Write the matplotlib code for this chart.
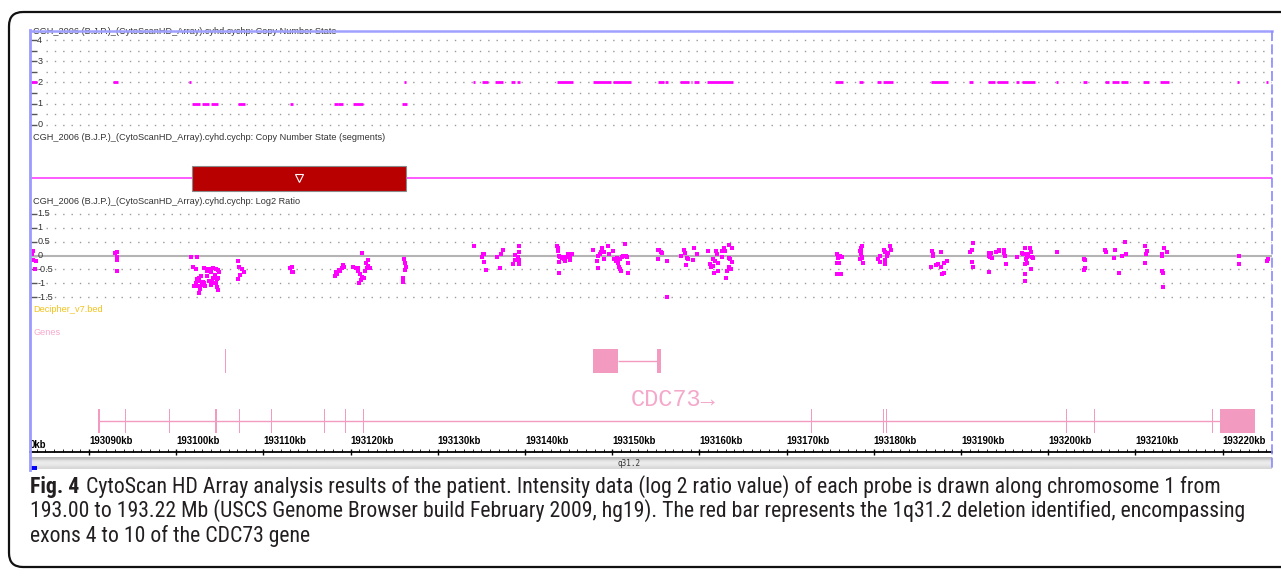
import matplotlib
matplotlib.use('Agg')
import matplotlib.pyplot as plt
import matplotlib.transforms as mtransforms
from matplotlib import font_manager as fm
import numpy as np
from matplotlib.patches import Rectangle, FancyBboxPatch
from matplotlib.ticker import MultipleLocator

W, H = 1281, 578
BASE = 193000  # kb, all positions below are offsets from this
view_kb = (193083.23, 193225.66)

# copy number state probes: (start, end) offsets in kb
cn2_runs = [(83.3, 84.0), (92.75, 93.3), (101.5, 101.7), (126.1, 126.3), (134.0, 134.3),
            (135.1, 135.7), (136.5, 137.5), (138.4, 138.9), (139.1, 139.4), (143.7, 145.5),
            (147.8, 149.9), (150.1, 152.1), (155.2, 155.9), (156.1, 156.4), (157.8, 158.8),
            (159.0, 159.2), (159.4, 159.9), (160.9, 163.9), (175.6, 176.5), (178.3, 178.8),
            (180.4, 180.8), (181.0, 182.2), (186.5, 188.5), (190.9, 191.4), (193.1, 193.9),
            (194.1, 195.4), (196.3, 196.6), (197.0, 198.5), (200.9, 201.1), (204.0, 204.4),
            (206.5, 207.0), (207.3, 208.1), (208.3, 209.2), (210.9, 211.5), (212.8, 213.8),
            (221.7, 221.9), (225.0, 225.2)]
cn1_runs = [(101.8, 102.7), (102.9, 103.8), (104.0, 104.8), (107.1, 107.9), (113.05, 113.4),
            (118.1, 118.5), (118.6, 119.1), (120.3, 121.4), (125.9, 126.5)]
cn_ticks = [0, 0.5, 1, 1.5, 2, 2.5, 3, 3.5, 4]
cn_labels = [0, 1, 2, 3, 4]

# deleted segment (copy number 1)
del_seg = (101.8, 126.3)

# log2 ratio probes
lr_kb = [83.58, 83.46, 83.58, 83.92, 83.81,
         92.95, 93.25, 93.15, 93.25, 93.15,
         101.66, 102.35, 101.89, 102.27, 102.58, 102.56, 102.53, 102.58, 102.88, 103.11,
         103.19, 103.5, 103.68, 103.96, 104.25, 104.56, 104.83, 104.45, 104.64, 104.83,
         104.56, 104.64, 104.83, 104.25, 104.11, 103.96, 103.19, 103.3, 102.92, 102.04,
         102.24, 102.35, 103.76, 102.73, 103.53, 103.99, 104.33, 104.91,
         107.12, 107.24, 107.51, 107.78, 107.31, 107.12,
         113.1, 113.25, 113.4, 113.25,
         118.2, 118.3, 118.4, 118.7, 118.8, 119.0, 119.1, 119.2,
         120.3, 120.6, 120.8, 120.9, 121.1, 121.3, 121.2, 121.0, 121.5, 121.7, 121.9, 121.8,
         122.0, 122.2, 122.0, 121.3,
         126.05, 126.05, 126.1, 126.2, 126.4, 126.2,
         134.2, 135.2, 135.3, 135.1, 135.3, 135.5, 136.8, 137.1, 137.3, 137.5, 138.6, 138.8,
         138.9, 139.3, 139.35, 139.3, 139.35, 139.25,
         143.7, 143.75, 143.8, 143.9, 144.0, 143.9, 143.9, 144.2, 144.3, 144.5, 144.6, 144.8,
         144.9, 145.1, 145.2, 145.4,
         147.84, 148.23, 148.35, 148.42, 148.61, 148.73, 148.88, 149.07, 149.1, 149.56, 149.68,
         150.14, 150.22, 150.45, 150.71, 150.83, 150.91, 150.99, 151.1, 151.28, 151.48, 151.59,
         151.67, 151.79, 151.86, 150.6, 150.91,
         155.23, 155.41, 155.57, 155.72, 155.3, 156.33, 156.26,
         157.87, 158.25, 158.36, 158.56, 158.74, 158.48, 159.25, 159.39, 159.7,
         161.03, 161.23, 161.31, 161.61, 161.69, 161.8, 161.92, 162.0, 162.11, 162.18, 162.57,
         162.57, 162.83, 162.95, 163.06, 163.21, 163.44, 163.41, 163.52, 163.6, 163.72, 163.72,
         163.44, 161.61,
         175.76, 175.94, 176.14, 176.33, 175.76, 176.06, 175.76, 176.25,
         178.63, 178.55, 178.43, 178.5, 178.63, 178.43, 178.7, 178.55, 178.6,
         180.42, 180.65, 180.73, 181.22, 181.3, 181.3, 181.3, 181.5, 181.68, 181.87, 181.99,
         186.66, 186.73, 186.77, 186.54, 187.15, 187.41, 187.69, 187.72, 187.8, 188.07, 188.1, 188.38,
         191.36, 191.25, 191.05, 191.25, 191.36,
         193.15, 193.26, 193.34, 193.54, 193.42, 194.03, 194.3, 194.41, 194.95, 194.98, 195.06,
         195.18, 193.26,
         196.41, 196.98, 197.16, 197.36, 197.55, 197.62, 197.73, 197.93, 198.01, 198.13, 198.24,
         197.47, 197.55, 197.36, 197.28, 197.36, 198.01,
         200.99,
         204.05, 204.24, 204.24, 204.13,
         206.54, 206.65, 207.69, 207.57, 208.06, 208.45, 208.83, 208.94,
         211.12, 211.32, 211.24, 211.12, 213.04, 213.1, 213.3, 213.61, 213.04, 213.15, 213.15,
         221.83, 221.83, 225.08, 225.15]
lr_val = [0.16, 0.05, -0.16, -0.2, -0.49,
          0.08, 0.14, -0.04, -0.16, -0.54,
          -0.04, -0.04, -0.42, -0.5, -0.8, -0.9, -1.1, -1.33, -0.75, -0.93,
          -0.45, -0.55, -0.48, -0.48, -0.45, -0.48, -0.52, -0.7, -0.85, -0.8,
          -1.0, -1.12, -1.25, -0.8, -0.95, -1.05, -1.0, -1.1, -1.05, -1.1,
          -0.98, -0.85, -0.9, -1.2, -0.75, -0.6, -1.0, -0.6,
          -0.19, -0.42, -0.49, -0.58, -0.7, -0.85,
          -0.45, -0.4, -0.58, -0.6,
          -0.72, -0.58, -0.67, -0.52, -0.55, -0.46, -0.34, -0.4,
          -0.42, -0.43, -0.46, -0.55, -0.67, -0.76, -0.87, -0.97, -0.82, -0.55, -0.46, -0.28,
          -0.16, -0.46, -0.36, 0.08,
          -0.79, -0.93, -0.13, -0.28, -0.4, -0.52,
          0.35, 0.07, 0.04, -0.06, -0.22, -0.53, -0.05, -0.43, 0.06, 0.21, -0.29, 0.01,
          -0.17, 0.33, 0.13, -0.17, -0.32, -0.06,
          0.35, 0.27, 0.15, 0.0, -0.06, -0.24, -0.61, -0.08, -0.05, -0.14, -0.2, -0.05,
          0.07, 0.0, -0.17, 0.04,
          0.19, -0.2, -0.43, 0.0, 0.07, 0.12, 0.27, -0.12, 0.12, 0.35, 0.07,
          0.15, -0.14, -0.2, -0.28, -0.4, -0.49, -0.55, -0.05, 0.0, 0.42, -0.02,
          -0.05, -0.28, -0.64, -0.08, -0.12,
          0.19, 0.21, 0.12, 0.1, -0.12, -0.2, -1.5,
          0.0, 0.21, 0.1, -0.08, -0.14, -0.35, -0.17, 0.27, 0.07,
          0.15, -0.32, -0.4, -0.12, -0.64, -0.2, 0.15, 0.07, -0.26, -0.55, 0.15,
          -0.05, 0.27, 0.15, -0.79, -0.55, 0.39, -0.08, -0.14, -0.47, 0.27, -0.24,
          -0.4, -0.38,
          0.04, -0.08, -0.02, -0.05, -0.26, -0.26, -0.67, -0.67,
          0.33, 0.21, 0.15, 0.04, -0.05, -0.14, -0.26, 0.28, -0.1,
          -0.14, -0.24, -0.02, 0.21, 0.12, -0.17, -0.32, 0.0, 0.1, 0.33, 0.19,
          0.15, 0.04, -0.02, -0.4, -0.35, -0.32, -0.4, 0.12, -0.67, -0.26, -0.64, -0.2,
          0.45, 0.19, 0.12, -0.24, -0.4,
          0.1, 0.0, -0.05, -0.08, 0.1, 0.12, 0.15, 0.18, 0.19, 0.1, 0.0,
          -0.32, -0.59,
          -0.05, 0.1, 0.04, 0.27, 0.04, -0.05, 0.0, 0.27, 0.12, -0.05, -0.08,
          -0.14, -0.26, -0.32, -0.67, -0.91, -0.47,
          0.12,
          -0.12, -0.17, -0.43, -0.52,
          0.21, 0.12, 0.21, -0.08, -0.61, 0.0, 0.5, 0.07,
          0.35, 0.15, 0.07, -0.26, 0.07, -0.02, 0.27, 0.12, -0.55, -0.61, -1.11,
          0.0, -0.32, -0.2, -0.14]
lr_ticks = [-1.5, -1, -0.5, 0, 0.5, 1, 1.5]
lr_labels = ['-1.5', '-1', '-0.5', '0', '0.5', '1', '1.5']

# genes (kb offsets)
cdc73_exons = [(91.0, 91.3), (94.1, 94.22), (99.21, 99.33), (104.45, 104.65), (107.16, 107.28),
               (110.86, 110.98), (116.94, 117.06), (119.33, 119.45), (121.4, 121.52),
               (172.77, 172.89), (181.07, 181.19), (181.35, 181.47), (202.03, 202.15),
               (205.26, 205.38), (218.77, 218.89), (219.67, 223.66)]
other_exons = [(147.8, 150.67), (155.14, 155.6)]
small_feature = (105.57, 105.69)

ruler_ticks = list(range(193090, 193221, 10))
band_name = 'q31.2'

caption = ["CytoScan HD Array analysis results of the patient. Intensity data (log 2 ratio value) of each probe is drawn along chromosome 1 from",
           "193.00 to 193.22 Mb (USCS Genome Browser build February 2009, hg19). The red bar represents the 1q31.2 deletion identified, encompassing",
           "exons 4 to 10 of the CDC73 gene"]

MAG = '#ff00ff'
PINK = '#f29ac0'
DOT = '#9a9a9a'
TXT = '#333333'
SANS = ['Liberation Sans', 'DejaVu Sans']
LBL = dict(family=SANS, fontsize=6.6, color=TXT)

# pick a condensed face for the caption if one is installed
cap_family, cap_stretch = SANS, 'normal'
fonts = fm.fontManager.ttflist
names = {f.name for f in fonts}
for n in ['Liberation Sans Narrow', 'Roboto Condensed', 'Open Sans Condensed', 'DejaVu Sans Condensed']:
    if n in names:
        cap_family = [n] + SANS
        break
else:
    for n in ['DejaVu Sans', 'Noto Sans', 'Open Sans', 'Roboto']:
        if any(f.name == n and f.stretch in ('condensed', 'semi-condensed') for f in fonts):
            cap_family, cap_stretch = [n], 'condensed'
            break

fig = plt.figure(figsize=(W / 100, H / 100), dpi=100)

bg = fig.add_axes([0, 0, 1, 1], zorder=-5)
bg.set_xlim(0, W)
bg.set_ylim(H, 0)
bg.axis('off')


def px_axes(x0, y0, x1, y1):
    ax = fig.add_axes([x0 / W, 1 - y1 / H, (x1 - x0) / W, (y1 - y0) / H])
    ax.set_facecolor('none')
    for s in ax.spines.values():
        s.set_visible(False)
    ax.set_xlim(*view_kb)
    ax.set_xticks([])
    ax.set_yticks([])
    return ax


def kb(a):
    return BASE + np.asarray(a, dtype=float)


dot_start = view_kb[0] + 16 / 8.72

# ---- copy number state track
ax_cn = px_axes(30, 28, 1272, 132)
ax_cn.set_ylim(-0.33, 4.565)
ax_cn.hlines(cn_ticks, dot_start, view_kb[1], colors=DOT, linestyles=(0, (1, 5)), lw=1.0)
for runs, state in ((cn2_runs, 2), (cn1_runs, 1)):
    r = np.array(runs)
    ax_cn.hlines(np.full(len(r), state), kb(r[:, 0]), kb(r[:, 1]), colors=MAG, lw=2.0, zorder=3)
ax_cn.set_yticks(cn_ticks)
ax_cn.tick_params(axis='y', direction='in', length=5, width=1, color='#555555', labelleft=False)
blend = mtransforms.blended_transform_factory(ax_cn.transAxes, ax_cn.transData)
for v in cn_labels:
    ax_cn.text(0.0058, v, str(v), transform=blend, ha='left', va='center', **LBL)
head = ax_cn.text(view_kb[0] + 0.4, 4.26, 'CGH_2006 (B.J.P.)_(CytoScanHD_Array).cyhd.cychp: Copy Number State',
                  va='baseline', ha='left', **LBL)
head.set_clip_path(ax_cn.patch)

# ---- segments track
ax_sg = px_axes(30, 132, 1272, 195)
ax_sg.set_ylim(195, 132)
ax_sg.text(view_kb[0] + 0.4, 137, 'CGH_2006 (B.J.P.)_(CytoScanHD_Array).cyhd.cychp: Copy Number State (segments)',
           va='center', ha='left', **LBL)
ax_sg.axhline(178, color='#ff4dff', lw=1.3)
s0, s1 = kb(del_seg)
ax_sg.add_patch(Rectangle((s0, 165.5), s1 - s0, 25.5, fc='#b80000', ec='#8a8a8a', lw=0.8, zorder=3))
ax_sg.plot([(s0 + s1) / 2], [178], marker='v', ms=6, mfc='none', mec='white', mew=0.8, zorder=4)

# ---- log2 ratio track
ax_lr = px_axes(30, 195, 1272, 305)
ax_lr.set_ylim(-1.768, 2.161)
ax_lr.hlines([t for t in lr_ticks if t != 0], dot_start, view_kb[1], colors=DOT,
             linestyles=(0, (1, 5)), lw=1.0)
ax_lr.axhline(0, color='#b4b4b4', lw=1.5)
ax_lr.scatter(kb(lr_kb), lr_val, s=5, c=MAG, marker='s', linewidths=0, zorder=3)
ax_lr.set_yticks(lr_ticks)
ax_lr.tick_params(axis='y', direction='in', length=5, width=1, color='#555555', labelleft=False)
blend = mtransforms.blended_transform_factory(ax_lr.transAxes, ax_lr.transData)
for v, t in zip(lr_ticks, lr_labels):
    ax_lr.text(0.0058, v, t, transform=blend, ha='left', va='center', **LBL)
ax_lr.text(view_kb[0] + 0.4, 1.946, 'CGH_2006 (B.J.P.)_(CytoScanHD_Array).cyhd.cychp: Log2 Ratio',
           va='center', ha='left', **LBL)

# ---- genes track
ax_g = px_axes(30, 305, 1272, 452)
ax_g.set_ylim(452, 305)
ax_g.text(view_kb[0] + 0.4, 310, 'Decipher_v7.bed', va='center', ha='left',
          family=SANS, fontsize=6.6, color='#f2c21b')
ax_g.text(view_kb[0] + 0.4, 332.5, 'Genes', va='center', ha='left',
          family=SANS, fontsize=6.6, color='#f6a9cb')
f0, f1 = kb(small_feature)
ax_g.add_patch(Rectangle((f0, 349), f1 - f0, 24, fc=PINK, ec='none'))
oe = kb(other_exons)
ax_g.hlines(361, oe[0, 1], oe[1, 0], colors=PINK, lw=1.0)
for a, b in oe:
    ax_g.add_patch(Rectangle((a, 349), b - a, 24, fc=PINK, ec='none'))
ce = kb(cdc73_exons)
ax_g.hlines(420.7, ce[0, 0], ce[-1, 0], colors=PINK, lw=1.0)
for a, b in ce:
    ax_g.add_patch(Rectangle((a, 408.5), b - a, 24.5, fc=PINK, ec='none'))
ax_g.text(BASE + 152.1, 399, 'CDC73\u2192', va='center', ha='left',
          family=['Liberation Mono', 'DejaVu Sans Mono'], fontsize=17, color='#f4a8ca')

# ---- ruler + cytoband
ax_r = px_axes(30, 452, 1272, 470)
ax_r.set_ylim(470, 452)
ax_r.spines['top'].set_visible(True)
ax_r.spines['top'].set_linewidth(1.3)
ax_r.xaxis.tick_top()
ax_r.set_xticks(ruler_ticks)
ax_r.set_xticklabels([f'{t}kb' for t in ruler_ticks])
ax_r.xaxis.set_minor_locator(MultipleLocator(1))
ax_r.tick_params(axis='x', which='major', direction='inout', length=5, width=1, pad=1.5,
                 labelsize=6.9, top=True, bottom=False)
ax_r.tick_params(axis='x', which='minor', direction='out', length=2, width=0.6, top=True, bottom=False)
for lab in ax_r.get_xticklabels():
    lab.set_ha('left')
    lab.set_fontweight('bold')
    lab.set_family(SANS)
ax_r.text(view_kb[0], 450, '0kb', ha='left', va='bottom', fontsize=6.9, fontweight='bold',
          family=SANS, clip_on=False)
grad = np.array([0.72, 0.80, 0.88, 0.92, 0.92, 0.90, 0.87, 0.84])[:, None]
ax_r.imshow(grad, cmap='gray', vmin=0, vmax=1, aspect='auto',
            extent=(view_kb[0], view_kb[1], 469, 457), zorder=1)
ax_r.set_xlim(*view_kb)
ax_r.set_ylim(470, 452)
ax_r.text(BASE + 151.9, 463, band_name, ha='center', va='center', fontsize=5.5,
          family=['DejaVu Sans Mono'], color='#333333')
ax_r.add_patch(Rectangle((view_kb[0], 466), 0.8, 4, fc='#0000ff', ec='none', clip_on=False))

# ---- frames (outer box behind, blue panel border on top of the tracks)
bg.add_patch(FancyBboxPatch((9, 12), 1320, 555, boxstyle='round,pad=0,rounding_size=14',
                            fill=False, ec='#111111', lw=1.6))
top = fig.add_axes([0, 0, 1, 1], zorder=10)
top.set_facecolor('none')
top.set_xlim(0, W)
top.set_ylim(H, 0)
top.axis('off')
top.plot([30, 30], [30, 470], color='#9a9aff', lw=2.0)
top.plot([30, 1272], [31, 31], color='#a0a0ff', lw=1.8)
top.plot([1272, 1272], [31, 470], color='#8a8aff', lw=1.2, ls=(0, (6, 2)))

# ---- caption
CAP = dict(family=cap_family, stretch=cap_stretch, color='#231f20', va='center', ha='left')
fs = 12.0
fig_t = bg.text(30, 487, 'Fig. 4', fontweight='bold', fontsize=fs, **CAP)
rend = fig.canvas.get_renderer()
bb = fig_t.get_window_extent(rend)
lines = [bg.text(bb.x1 + 5, 487, caption[0], fontsize=fs, **CAP),
         bg.text(30, 511, caption[1], fontsize=fs, **CAP),
         bg.text(30, 536, caption[2], fontsize=fs, **CAP)]
# fit line widths to the reference (line 1 ends ~1232, line 2 ends ~1240)
w1 = lines[0].get_window_extent(rend).x1 - 30
w2 = lines[1].get_window_extent(rend).x1 - 30
scale = ((1232 - 30) / w1 + (1240 - 30) / w2) / 2
fs2 = fs * scale
fig_t.set_fontsize(fs2)
bb = fig_t.get_window_extent(rend)
lines[0].set_x(bb.x1 + 5 * scale)
for t in lines:
    t.set_fontsize(fs2)

fig.savefig('out.png', dpi=100)
